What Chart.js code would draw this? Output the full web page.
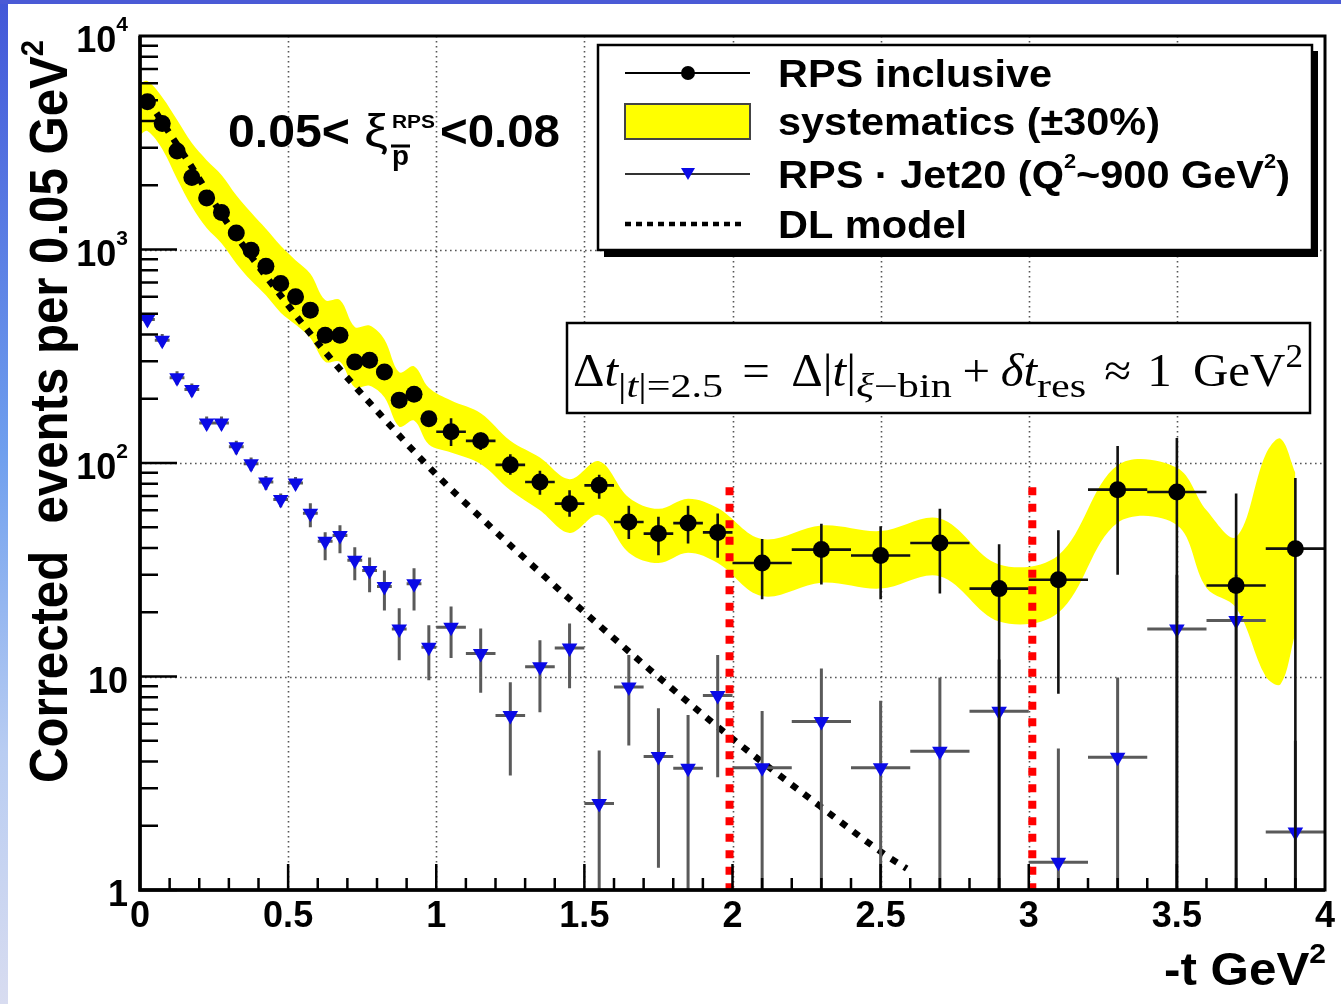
<!DOCTYPE html>
<html lang="en">
<head>
<meta charset="UTF-8">
<title>Corrected events vs -t</title>
<script src="https://cdn.jsdelivr.net/npm/chart.js"></script>
<style>
  html, body { margin: 0; padding: 0; background: #fff; }
  #wrap { position: relative; width: 1341px; height: 1004px; background: #fff; overflow: hidden; }
  #edgeLeft { position: absolute; left: 0; top: 0; width: 8px; height: 1004px;
    background: linear-gradient(#4257d8, #6f9fee 45%, #b9cdf2 75%, #d8dcf0); }
  #edgeTop { position: absolute; left: 0; top: 0; width: 1341px; height: 4px; background: #4a5ad6; }
  canvas { position: absolute; left: 0; top: 0; }
</style>
</head>
<body>
<div id="wrap">
  <canvas id="chart" width="1341" height="1004"></canvas>
  <div id="edgeLeft"></div>
  <div id="edgeTop"></div>
</div>

<script>
// bin centres (-t in GeV^2) and half widths
const tBins = [0.025, 0.075, 0.125, 0.175, 0.225, 0.275, 0.325, 0.375, 0.425, 0.475,
  0.525, 0.575, 0.625, 0.675, 0.725, 0.775, 0.825, 0.875, 0.925, 0.975,
  1.05, 1.15, 1.25, 1.35, 1.45, 1.55, 1.65, 1.75, 1.85, 1.95,
  2.1, 2.3, 2.5, 2.7, 2.9, 3.1, 3.3, 3.5, 3.7, 3.9];
const binHalf = [0.025, 0.025, 0.025, 0.025, 0.025, 0.025, 0.025, 0.025, 0.025, 0.025,
  0.025, 0.025, 0.025, 0.025, 0.025, 0.025, 0.025, 0.025, 0.025, 0.025,
  0.05, 0.05, 0.05, 0.05, 0.05, 0.05, 0.05, 0.05, 0.05, 0.05,
  0.1, 0.1, 0.1, 0.1, 0.1, 0.1, 0.1, 0.1, 0.1, 0.1];

// RPS inclusive
const inclVals = [4920, 3890, 2890, 2175, 1745, 1490, 1196, 993, 835, 693,
  601, 520, 397, 397, 297, 303, 267, 197, 210, 161,
  140, 127, 98, 81.5, 64.5, 78.6, 52.9, 46.7, 52.3, 47.3,
  34, 39.3, 36.9, 42.2, 25.8, 28.4, 75, 73.1, 26.7, 39.7];
const inclLo = [4720, 3730, 2770, 2080, 1670, 1420, 1140, 945, 795, 658,
  570, 492, 375, 375, 280, 285, 250, 184, 196, 150,
  120, 115, 88, 71, 56, 68, 44, 37, 42, 36,
  23, 27, 23, 24.5, 0.5, 8.3, 30, 0.5, 0.5, 0.5];
const inclHi = [5120, 4050, 3010, 2270, 1820, 1560, 1250, 1040, 875, 728,
  632, 548, 420, 420, 314, 321, 284, 210, 224, 172,
  162, 139, 110, 92, 74.5, 88, 63, 56, 63, 58,
  44, 52, 50.5, 61, 41.6, 48.4, 120, 131, 72, 85];

// RPS . Jet20
const jetVals = [470, 376, 251, 221, 154, 154, 119, 99.3, 81.4, 67.4,
  80.6, 58.1, 43, 45.8, 35, 31.4, 26.4, 16.7, 27.2, 13.7,
  17, 12.8, 6.57, 11.1, 13.6, 2.54, 8.92, 4.22, 3.72, 8.15,
  3.74, 6.16, 3.74, 4.46, 6.88, 1.35, 4.19, 16.7, 18.3, 1.87];
const jetLo = [437, 350, 233, 205, 143, 143, 110, 92, 75, 62,
  75, 50, 35, 37.8, 28.2, 24.8, 20.4, 11.9, 20.4, 9.6,
  12.2, 8.4, 3.44, 6.8, 8.8, 0.5, 4.75, 1.27, 0.5, 3.37,
  0.5, 0.5, 0.5, 0.5, 0.5, 0.5, 0.5, 0.5, 0.5, 0.5];
const jetHi = [503, 402, 269, 236, 165, 165, 127, 106, 87, 72,
  86, 64.7, 47.4, 51.1, 40.3, 36.1, 31.4, 20.9, 32.1, 17.4,
  21.3, 16.8, 9.4, 14.8, 17.7, 4.5, 12.6, 7.1, 6.6, 12.6,
  6.9, 10.9, 7.7, 9.9, 12, 4.6, 9.9, 30, 30, 5];

// systematics band edges
const bandT = [0, 0.025, 0.075, 0.125, 0.175, 0.225, 0.275, 0.325, 0.375, 0.425, 0.475,
  0.525, 0.575, 0.625, 0.675, 0.725, 0.775, 0.825, 0.875, 0.925, 0.975,
  1.05, 1.15, 1.25, 1.35, 1.45, 1.55, 1.65, 1.75, 1.85, 1.95,
  2.1, 2.3, 2.5, 2.7, 2.9, 3.1, 3.3, 3.5, 3.6, 3.7, 3.8, 3.85, 3.9];
const bandUp = [6000, 6150, 5170, 4050, 3150, 2620, 2235, 1795, 1490, 1250, 1040,
  890, 770, 580, 580, 434, 440, 379, 266, 284, 225,
  196, 171, 127, 106, 84, 102, 69, 61, 68, 61.5,
  44, 51, 48, 55, 33.5, 37, 97.5, 95, 60, 45, 110, 130, 90];
const bandLow = [3450, 3590, 2960, 2140, 1590, 1260, 1070, 861, 715, 610, 506,
  445, 385, 298, 298, 226, 230, 203, 148, 158, 122,
  112, 99, 74.5, 60, 47, 57, 38, 34, 38, 34,
  23.8, 27.5, 25.8, 29.5, 18.1, 19.9, 52.5, 51.2, 26, 21, 10, 9.2, 16];

// DL model curve
const dlT = [0.027, 0.1, 0.16, 0.3, 0.5, 0.634, 0.814, 0.959, 1.074, 1.5, 1.953, 2.297, 2.51, 2.588];
const dlVals = [5010, 3500, 2620, 1300, 548, 320, 167, 101, 70, 20, 5.77, 2.46, 1.48, 1.26];

// dotted red markers
const redLines = [1.99, 3.012];
const redTop = 77;

// axis ticks
const xTickVals = [0, 0.5, 1, 1.5, 2, 2.5, 3, 3.5, 4];
const xTickLabels = ['0', '0.5', '1', '1.5', '2', '2.5', '3', '3.5', '4'];
const yTickVals = [1, 10, 100, 1000, 10000];
const yTickLabels = ['1', '10', '10^2', '10^3', '10^4'];

const SANS = '"Liberation Sans", Arial, sans-serif';
const SERIF = '"Liberation Serif", "DejaVu Serif", serif';

function pts(xs, ys) {
    return xs.map((x, i) => ({ x: x, y: ys[i] }));
}

// draw a list of text pieces one after another, optionally squeezed to a width
// items: {text, font, dy, sx} or {gap}
function drawRuns(ctx, items, x, y, width, align) {
    let total = 0;
    items.forEach(it => {
        if (it.gap) { it.w = it.gap; }
        else { ctx.font = it.font; it.w = ctx.measureText(it.text).width * (it.sx || 1); }
        total += it.w;
    });
    const sx = width ? width / total : 1;
    let x0 = x;
    if (align === 'right') x0 = x - total * sx;
    if (align === 'center') x0 = x - total * sx / 2;
    ctx.save();
    ctx.textAlign = 'left';
    ctx.textBaseline = 'alphabetic';
    ctx.translate(x0, y);
    ctx.scale(sx, 1);
    let cx = 0;
    items.forEach(it => {
        if (!it.gap) {
            ctx.save();
            ctx.translate(cx, it.dy || 0);
            ctx.scale(it.sx || 1, 1);
            ctx.font = it.font;
            ctx.fillStyle = it.color || '#000';
            ctx.fillText(it.text, 0, 0);
            ctx.restore();
        }
        cx += it.w;
    });
    ctx.restore();
}

function errorBars(chart, vals, lo, hi, color, width) {
    const ctx = chart.ctx;
    const xs = chart.scales.x, ys = chart.scales.y;
    const area = chart.chartArea;
    const clampY = v => Math.min(area.bottom, Math.max(area.top, v));
    ctx.save();
    ctx.strokeStyle = color;
    ctx.lineWidth = width;
    ctx.beginPath();
    tBins.forEach((t, i) => {
        const px = xs.getPixelForValue(t);
        const py = ys.getPixelForValue(vals[i]);
        ctx.moveTo(px, clampY(ys.getPixelForValue(hi[i])));
        ctx.lineTo(px, clampY(ys.getPixelForValue(lo[i])));
        ctx.moveTo(xs.getPixelForValue(t - binHalf[i]), py);
        ctx.lineTo(xs.getPixelForValue(t + binHalf[i]), py);
    });
    ctx.stroke();
    ctx.restore();
}

const rootStyle = {
    id: 'rootStyle',
    beforeDatasetsDraw(chart) {
        const ctx = chart.ctx;
        const xs = chart.scales.x, ys = chart.scales.y;
        const a = chart.chartArea;
        ctx.save();
        ctx.strokeStyle = '#555';
        ctx.lineWidth = 1.6;
        ctx.setLineDash([1.6, 3.4]);
        ctx.beginPath();
        [0.5, 1, 1.5, 2, 2.5, 3, 3.5].forEach(v => {
            const px = Math.round(xs.getPixelForValue(v)) + 0.5;
            ctx.moveTo(px, a.top);
            ctx.lineTo(px, a.bottom);
        });
        [10, 100, 1000].forEach(v => {
            const py = Math.round(ys.getPixelForValue(v)) + 0.5;
            ctx.moveTo(a.left, py);
            ctx.lineTo(a.right, py);
        });
        ctx.stroke();
        ctx.restore();
    },
    beforeDatasetDraw(chart, args) {
        if (args.index === 3) errorBars(chart, jetVals, jetLo, jetHi, '#5a5a5a', 3);
        if (args.index === 4) errorBars(chart, inclVals, inclLo, inclHi, '#111', 2.6);
    },
    afterDatasetsDraw(chart) {
        const ctx = chart.ctx;
        const xs = chart.scales.x, ys = chart.scales.y;
        const a = chart.chartArea;

        // red dotted lines
        ctx.save();
        ctx.strokeStyle = '#ff0000';
        ctx.lineWidth = 8;
        ctx.setLineDash([8, 8.5]);
        ctx.beginPath();
        redLines.forEach(v => {
            const px = xs.getPixelForValue(v);
            ctx.moveTo(px, ys.getPixelForValue(redTop));
            ctx.lineTo(px, a.bottom);
        });
        ctx.stroke();
        ctx.restore();

        // frame
        ctx.save();
        ctx.strokeStyle = '#000';
        ctx.lineWidth = 3;
        ctx.strokeRect(a.left, a.top, a.right - a.left, a.bottom - a.top);
        ctx.lineWidth = 3.5;
        ctx.beginPath();
        ctx.moveTo(a.left, a.top); ctx.lineTo(a.left, a.bottom); ctx.lineTo(a.right, a.bottom);
        ctx.stroke();

        // ticks
        ctx.lineWidth = 2.5;
        ctx.beginPath();
        for (let d = 0; d < 4; d++) {
            for (let m = 1; m < 10; m++) {
                const py = ys.getPixelForValue(m * Math.pow(10, d));
                const len = m === 1 ? 37 : 18;
                ctx.moveTo(a.left, py); ctx.lineTo(a.left + len, py);
            }
        }
        for (let i = 1; i < 40; i++) {
            const px = xs.getPixelForValue(i / 10);
            const len = i % 5 === 0 ? 26 : 12;
            ctx.moveTo(px, a.bottom); ctx.lineTo(px, a.bottom - len);
        }
        ctx.stroke();
        ctx.restore();

        // tick labels
        const tickFont = 'bold 36px ' + SANS;
        xTickVals.forEach((v, i) => {
            drawRuns(ctx, [{ text: xTickLabels[i], font: tickFont }], xs.getPixelForValue(v), 927, null, 'center');
        });
        yTickVals.forEach((v, i) => {
            const parts = yTickLabels[i].split('^');
            const items = [{ text: parts[0], font: tickFont }];
            if (parts[1]) items.push({ text: parts[1], font: 'bold 21px ' + SANS, dy: -21 });
            drawRuns(ctx, items, 128, ys.getPixelForValue(v) + 16, null, 'right');
        });

        // axis titles
        drawRuns(ctx, [{ text: '-t GeV', font: 'bold 46px ' + SANS },
                       { text: '2', font: 'bold 28px ' + SANS, dy: -22 }], 1326, 985, 162, 'right');
        ctx.save();
        ctx.translate(67, 783);
        ctx.rotate(-Math.PI / 2);
        drawRuns(ctx, [{ text: 'Corrected  events per 0.05 GeV', font: 'bold 54px ' + SANS },
                       { text: '2', font: 'bold 32px ' + SANS, dy: -24 }], 0, 0, 743, 'left');
        ctx.restore();

        // xi range label
        drawRuns(ctx, [{ text: '0.05<', font: 'bold 46px ' + SANS }], 228, 147, 122, 'left');
        drawRuns(ctx, [{ text: 'ξ', font: '46px ' + SANS }], 364, 147, 24, 'left');
        drawRuns(ctx, [{ text: 'RPS', font: 'bold 18px ' + SANS }], 392, 128, 43, 'left');
        drawRuns(ctx, [{ text: 'p', font: 'bold 27px ' + SANS }], 392, 165, 17, 'left');
        ctx.save();
        ctx.strokeStyle = '#000';
        ctx.lineWidth = 3;
        ctx.beginPath(); ctx.moveTo(391, 146); ctx.lineTo(410, 146); ctx.stroke();
        ctx.restore();
        drawRuns(ctx, [{ text: '<0.08', font: 'bold 46px ' + SANS }], 440, 147, 120, 'left');

        // legend box with shadow
        ctx.save();
        ctx.fillStyle = '#000';
        ctx.fillRect(604, 250, 714, 7);
        ctx.fillRect(1311, 51, 7, 206);
        ctx.fillStyle = '#fff';
        ctx.fillRect(598, 45, 714, 205);
        ctx.strokeStyle = '#000';
        ctx.lineWidth = 2.5;
        ctx.strokeRect(598, 45, 714, 205);

        ctx.lineWidth = 2;
        ctx.strokeStyle = '#000';
        ctx.beginPath(); ctx.moveTo(625, 73); ctx.lineTo(750, 73); ctx.stroke();
        ctx.fillStyle = '#000';
        ctx.beginPath(); ctx.arc(688, 73, 7, 0, Math.PI * 2); ctx.fill();

        ctx.fillStyle = '#ffff00';
        ctx.fillRect(625, 104, 125, 35);
        ctx.strokeStyle = '#444';
        ctx.lineWidth = 2;
        ctx.strokeRect(625, 104, 125, 35);

        ctx.strokeStyle = '#333';
        ctx.beginPath(); ctx.moveTo(625, 174); ctx.lineTo(750, 174); ctx.stroke();
        ctx.fillStyle = '#0a0ae6';
        ctx.beginPath(); ctx.moveTo(681, 168); ctx.lineTo(695, 168); ctx.lineTo(688, 180); ctx.closePath(); ctx.fill();

        ctx.strokeStyle = '#000';
        ctx.lineWidth = 4.5;
        ctx.setLineDash([6, 5]);
        ctx.beginPath(); ctx.moveTo(625, 224); ctx.lineTo(746, 224); ctx.stroke();
        ctx.restore();

        const legFont = 'bold 38px ' + SANS;
        const legSup = 'bold 20px ' + SANS;
        drawRuns(ctx, [{ text: 'RPS inclusive', font: legFont }], 778, 87, 274, 'left');
        drawRuns(ctx, [{ text: 'systematics (±30%)', font: legFont }], 778, 135, 382, 'left');
        drawRuns(ctx, [{ text: 'RPS · Jet20 (Q', font: legFont }, { text: '2', font: legSup, dy: -20 },
                       { text: '~900 GeV', font: legFont }, { text: '2', font: legSup, dy: -20 },
                       { text: ')', font: legFont }], 778, 188, 512, 'left');
        drawRuns(ctx, [{ text: 'DL model', font: legFont }], 778, 238, 189, 'left');

        // formula box
        ctx.save();
        ctx.fillStyle = '#fff';
        ctx.fillRect(567, 323, 743, 90);
        ctx.strokeStyle = '#000';
        ctx.lineWidth = 2.5;
        ctx.strokeRect(567, 323, 743, 90);
        ctx.restore();
        const S = '46px ' + SERIF, SI = 'italic 46px ' + SERIF;
        const s = '33px ' + SERIF, si = 'italic 33px ' + SERIF;
        drawRuns(ctx, [
            { text: 'Δ', font: S }, { text: 't', font: SI },
            { text: '|', font: s, dy: 11, sx: 1.2 }, { text: 't', font: si, dy: 11, sx: 1.2 },
            { text: '|=2.5', font: s, dy: 11, sx: 1.2 },
            { gap: 18 }, { text: '=', font: S }, { gap: 20 },
            { text: 'Δ|', font: S }, { text: 't', font: SI }, { text: '|', font: S },
            { text: 'ξ', font: si, dy: 11, sx: 1.2 }, { text: '−bin', font: s, dy: 11, sx: 1.2 },
            { gap: 10 }, { text: '+', font: S }, { gap: 10 },
            { text: 'δt', font: SI }, { text: 'res', font: s, dy: 11, sx: 1.2 },
            { gap: 17 }, { text: '≈', font: S }, { gap: 15 }, { text: '1', font: S }, { gap: 20 },
            { text: 'GeV', font: S }, { text: '2', font: s, dy: -19 }
        ], 573, 386, 730, 'left');
    }
};

new Chart(document.getElementById('chart'), {
    type: 'line',
    data: {
        datasets: [
            {
                label: 'band upper',
                data: pts(bandT, bandUp),
                borderWidth: 0,
                pointRadius: 0,
                tension: 0.35,
                fill: false,
                order: 10
            },
            {
                label: 'systematics (±30%)',
                data: pts(bandT, bandLow),
                borderWidth: 0,
                pointRadius: 0,
                tension: 0.35,
                fill: '-1',
                backgroundColor: '#ffff00',
                order: 9
            },
            {
                label: 'DL model',
                data: pts(dlT, dlVals),
                borderColor: '#000',
                borderWidth: 6.5,
                borderDash: [7, 8.5],
                borderCapStyle: 'butt',
                pointRadius: 0,
                cubicInterpolationMode: 'monotone',
                fill: false,
                order: 5
            },
            {
                label: 'RPS · Jet20',
                data: pts(tBins, jetVals),
                showLine: false,
                pointStyle: 'triangle',
                rotation: 180,
                pointRadius: 9,
                pointBackgroundColor: '#0a0ae6',
                pointBorderColor: '#0a0ae6',
                pointBorderWidth: 0,
                clip: false,
                order: 3
            },
            {
                label: 'RPS inclusive',
                data: pts(tBins, inclVals),
                showLine: false,
                pointStyle: 'circle',
                pointRadius: 8.5,
                pointBackgroundColor: '#000',
                pointBorderColor: '#000',
                pointBorderWidth: 0,
                clip: false,
                order: 1
            }
        ]
    },
    options: {
        responsive: false,
        animation: false,
        devicePixelRatio: 1,
        layout: { padding: { left: 140, right: 16, top: 36, bottom: 114 } },
        scales: {
            x: { type: 'linear', min: 0, max: 4, display: false },
            y: { type: 'logarithmic', min: 1, max: 10000, display: false }
        },
        plugins: {
            legend: { display: false },
            tooltip: { enabled: false }
        }
    },
    plugins: [rootStyle]
});
</script>
</body>
</html>
